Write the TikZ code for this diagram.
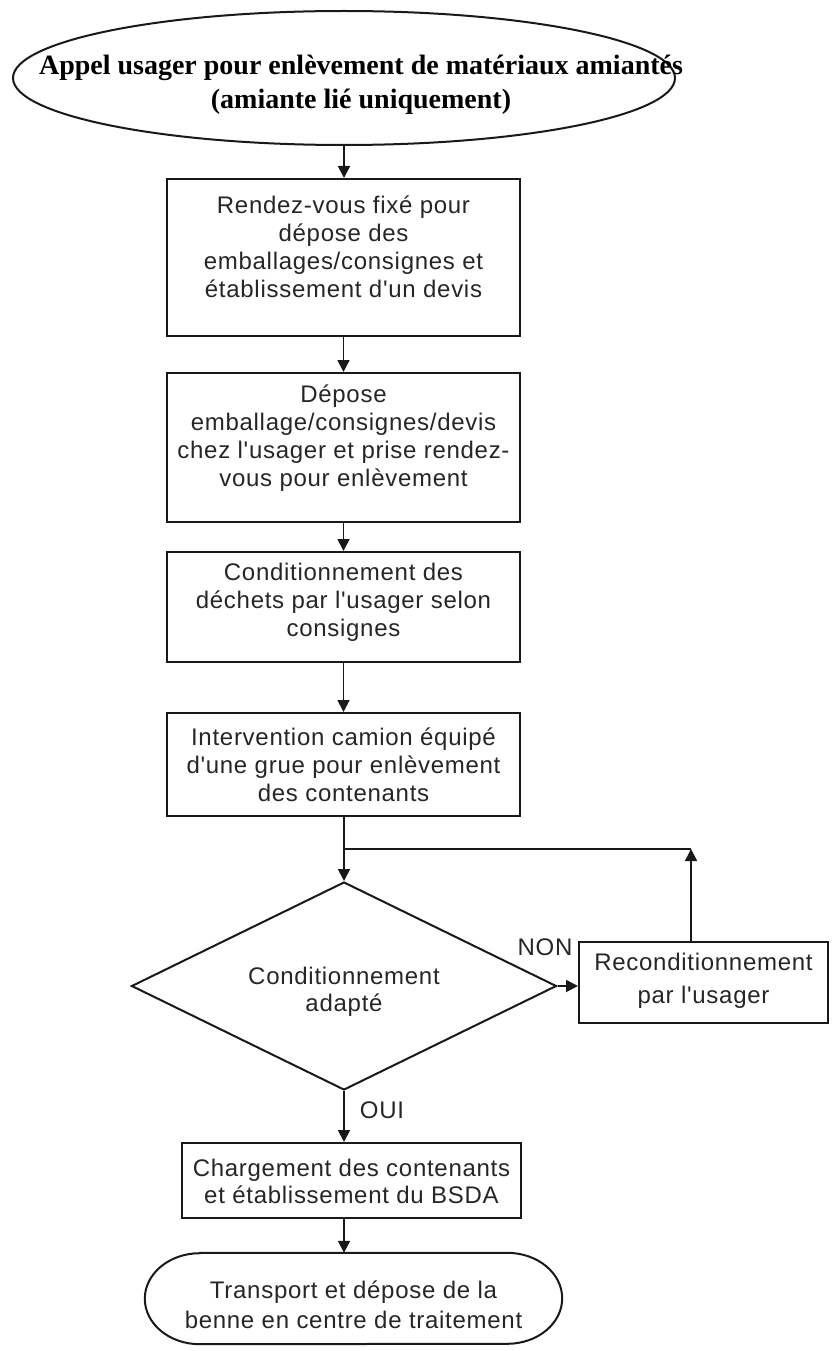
\documentclass[tikz,border=0pt]{standalone}
\usepackage{fontspec}
\setmainfont{Liberation Serif}
\newfontfamily\boxfont{Liberation Sans}[LetterSpace=3]
\usetikzlibrary{shapes.geometric,arrows.meta,calc}
\begin{document}
\begin{tikzpicture}[x=1pt,y=1pt,
  shapebox/.style={draw=black!90, line width=2pt, rectangle, inner sep=0pt},
  txt/.style={align=center, inner sep=0pt, text=black!85, font={\boxfont\fontsize{24}{28}\selectfont}},
  arr/.style={line width=1.8pt, draw=black!90, -{Triangle[length=12pt,width=12pt]}},
  conn/.style={line width=1.8pt, draw=black!90}]
\useasboundingbox (0,0) rectangle (832,-1351);
\fill[white] (0,0) rectangle (832,-1351);

% start ellipse
\node[draw=black!90, ellipse, line width=2pt, minimum width=662, minimum height=134, inner sep=0pt] (start) at (344,-78) {};
\node[align=center, inner sep=0pt, font={\bfseries\fontsize{28}{34}\selectfont}] (startt) at (361,-85)
  {Appel usager pour enlèvement de matériaux amiantés\\(amiante lié uniquement)};

% boxes
\node[shapebox, minimum width=353, minimum height=157] (b1) at (343.5,-257.5) {};
\node[txt] (b1t) at (343.5,-246.5) {Rendez-vous fixé pour\\dépose des\\emballages/consignes et\\établissement d'un devis};

\node[shapebox, minimum width=353, minimum height=149] (b2) at (343.5,-447.5) {};
\node[txt] (b2t) at (343.5,-438.5) {Dépose\\emballage/consignes/devis\\chez l'usager et prise rendez-\\vous pour enlèvement};

\node[shapebox, minimum width=353, minimum height=110] (b3) at (343.5,-607) {};
\node[txt] (b3t) at (343.5,-602) {Conditionnement des\\déchets par l'usager selon\\consignes};

\node[shapebox, minimum width=353, minimum height=103] (b4) at (343.5,-764.5) {};
\node[txt] (b4t) at (343.5,-764.5) {Intervention camion équipé\\d'une grue pour enlèvement\\des contenants};

\coordinate (J) at (344,-849);

% decision
\node[draw=black!90, diamond, line width=2pt, minimum width=425, minimum height=208, inner sep=0pt] (dia) at (344,-986) {};
\node[txt, font={\boxfont\fontsize{24}{27}\selectfont}] (diat) at (344,-991.5) {Conditionnement\\adapté};

\node[shapebox, minimum width=249, minimum height=81] (recond) at (703.5,-982.5) {};
\node[txt, font={\boxfont\fontsize{24}{33}\selectfont}] (recondt) at (703.5,-980.5) {Reconditionnement\\par l'usager};

\coordinate (c) at (691,-849);

\node[txt] (non) at (545,-947) {NON};
\node[txt] (oui) at (382,-1110) {OUI};

\node[shapebox, minimum width=339, minimum height=75] (charg) at (351.5,-1180.5) {};
\node[txt, font={\boxfont\fontsize{24}{27}\selectfont}] (chargt) at (351.5,-1181.5) {Chargement des contenants\\et établissement du BSDA};

% terminal
\node[minimum width=417, minimum height=91, inner sep=0pt] (endn) at (353.5,-1298.5) {};
\draw[line width=2pt, draw=black!90] ($(endn.north west)+(55,0)$) -- ($(endn.north east)+(-55,0)$)
  arc[start angle=90,end angle=-90,x radius=55,y radius=45.5]
  -- ($(endn.south west)+(55,0)$)
  arc[start angle=270,end angle=90,x radius=55,y radius=45.5] -- cycle;
\node[txt, font={\boxfont\fontsize{24}{30}\selectfont}] (endt) at (353.5,-1305) {Transport et dépose de la\\benne en centre de traitement};

% connectors
\draw[arr] (start.south) -- (start.south |- b1.north);
\draw[arr] (b1.south) -- (b2.north);
\draw[arr] (b2.south) -- (b3.north);
\draw[arr] (b3.south) -- (b4.north);
\draw[arr] (b4.south -| J) -- (J |- dia.north);
\draw[arr] (dia.east) -- (dia.east -| recond.west);
\draw[arr] (c |- recond.north) -- (c);
\draw[conn] (c) -- (J);
\draw[arr] (dia.south) -- (dia.south |- charg.north);
\draw[arr] (charg.south -| dia.south) -- (dia.south |- endn.north);
\end{tikzpicture}
\end{document}
